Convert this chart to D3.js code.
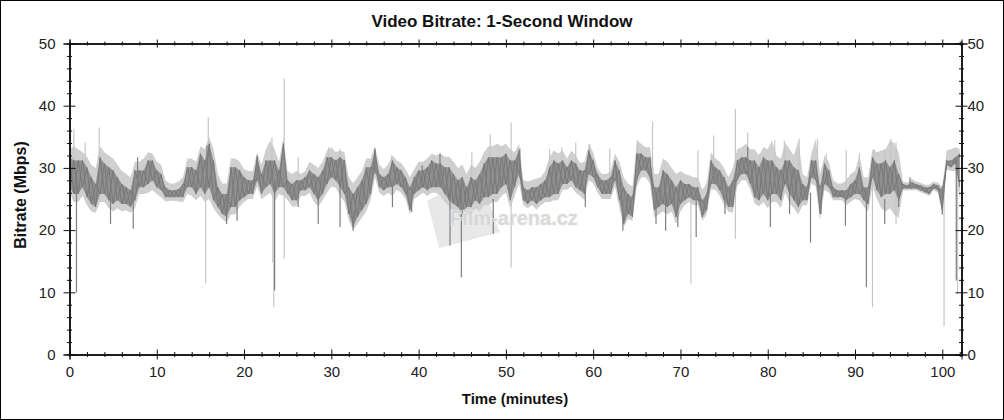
<!DOCTYPE html>
<html><head><meta charset="utf-8">
<script src="https://cdn.jsdelivr.net/npm/d3@7"></script>
<style>
html,body{margin:0;padding:0;background:#fff;}
svg{display:block;font-family:"Liberation Sans",Arial,sans-serif;}
</style></head>
<body><svg id="c" width="1004" height="420"></svg>
<script>
// sample times: every 0.5 minute from 0 to 102
const times = d3.range(0, 102.01, 0.5);
const darkHi = [31.7,31.2,31.2,31.2,30.1,28.5,27.4,31.7,30.7,30.1,29.6,28.5,27.4,26.9,26.4,29.6,29.6,29.6,31.2,31.2,
29.6,29.0,26.9,26.4,26.4,26.6,27.4,30.1,30.1,29.6,32.3,31.2,33.9,31.2,26.9,25.8,25.8,30.1,30.1,29.6,
28.5,28.0,28.0,31.7,29.0,31.2,31.2,31.2,29.6,33.9,28.0,27.4,28.0,28.0,28.5,29.6,29.0,28.5,29.6,31.7,
31.7,31.2,31.7,31.2,26.9,25.8,26.9,28.0,30.1,30.1,32.8,29.0,28.5,29.0,31.2,30.1,29.6,28.5,26.9,28.5,
29.6,29.6,30.1,31.2,30.7,30.7,30.1,30.1,29.0,28.0,28.5,26.9,28.5,28.0,29.0,30.7,31.7,31.7,31.7,31.7,
32.3,31.2,31.2,32.8,26.9,26.4,26.9,26.9,27.4,28.0,30.1,31.2,30.7,31.2,30.1,31.2,30.7,29.6,29.6,32.8,
31.2,29.0,28.0,28.0,28.5,31.2,29.6,26.9,25.8,25.3,32.3,32.3,31.7,31.7,26.9,26.9,29.6,29.0,28.0,26.9,
28.0,27.4,27.4,26.9,26.9,24.8,25.8,31.2,30.1,29.6,28.5,26.9,28.0,31.2,31.7,31.7,31.2,31.2,30.1,31.7,
31.2,31.2,30.1,29.6,31.2,31.2,30.1,29.6,27.4,26.9,31.2,31.2,26.9,30.7,29.6,26.9,26.4,26.4,26.4,27.4,
28.0,30.1,26.9,26.9,31.7,30.7,30.7,31.2,30.1,31.2,29.0,27.4,27.2,27.7,27.4,27.2,26.9,26.9,27.4,27.2,
26.4,31.2,31.2,31.7,32.3];
const darkLo = [26.9,25.8,25.8,26.9,25.3,24.2,23.7,25.8,25.8,24.8,24.2,24.8,24.2,24.2,23.7,24.8,26.9,26.9,27.4,28.0,
26.9,26.4,25.3,25.3,25.3,25.3,25.3,26.9,26.9,25.8,26.9,25.8,26.9,24.8,23.7,22.6,22.1,23.7,23.7,24.8,
25.3,25.8,25.8,28.0,25.8,26.9,27.4,25.8,26.9,26.9,25.8,24.8,24.8,26.4,26.4,26.9,25.8,24.8,25.8,27.4,
28.5,28.0,26.9,25.8,22.6,20.5,22.1,23.2,24.2,25.8,29.6,26.9,26.4,26.9,26.9,27.4,26.9,25.8,23.2,25.8,
26.4,26.9,26.4,26.9,26.9,26.9,25.8,24.8,24.2,23.7,22.6,23.7,23.7,24.8,24.2,25.3,25.3,25.8,25.8,26.9,
27.4,24.8,26.9,29.0,24.8,24.2,24.8,24.2,24.8,25.3,25.3,25.8,25.8,27.4,27.4,28.0,26.9,26.4,25.8,29.0,
28.5,26.9,25.8,25.8,25.8,28.0,24.8,21.0,22.6,22.1,28.0,29.6,29.6,28.5,23.2,23.7,24.2,23.7,24.2,22.1,
24.2,24.8,25.3,24.8,24.8,22.1,23.2,27.4,27.4,26.4,24.8,23.7,23.7,28.0,29.0,29.0,27.5,25.3,24.8,25.8,
24.8,25.8,25.8,24.8,27.4,25.8,24.8,23.7,24.8,24.8,28.5,28.0,22.6,27.4,26.9,25.3,25.3,25.3,24.8,25.3,
25.8,25.8,24.8,24.2,28.5,26.4,25.3,25.8,25.8,26.4,24.8,26.7,26.7,26.7,26.7,26.4,26.1,25.8,26.7,26.4,
23.2,30.4,30.1,30.7,26.9];
const lightHi = [33.0,33.5,33.0,32.5,31.8,30.5,30.0,33.5,32.5,32.0,31.5,30.5,29.5,29.0,28.5,31.0,31.0,31.5,32.5,32.3,
31.0,30.5,28.0,27.5,27.5,27.8,28.5,31.5,31.5,31.0,33.5,33.0,35.0,33.0,29.0,27.5,27.5,31.5,31.5,31.0,
29.8,29.5,29.5,32.5,30.5,33.0,34.4,33.0,31.0,35.0,29.5,29.0,29.5,29.0,29.5,31.0,30.5,30.0,31.0,32.8,
33.3,32.5,32.8,32.5,28.5,27.5,28.5,29.5,31.5,31.5,33.5,30.5,29.8,30.5,32.0,31.2,30.8,29.8,28.5,29.8,
31.0,31.0,31.5,32.3,32.0,32.3,31.8,31.8,31.0,30.0,30.5,29.0,30.5,30.0,31.0,32.5,33.5,33.5,33.9,33.5,
33.9,33.0,32.5,33.9,28.0,27.8,28.0,28.3,28.5,29.5,31.8,32.8,32.3,32.8,31.5,32.8,32.0,30.8,31.0,33.9,
32.5,30.0,29.0,29.0,29.5,32.3,31.0,28.5,27.5,27.0,34.4,33.9,33.3,33.3,29.0,29.0,31.5,31.0,30.0,29.0,
29.5,29.0,28.8,28.5,28.5,26.5,27.5,32.5,31.5,31.0,30.0,28.5,30.0,33.0,33.3,33.9,33.0,33.0,32.0,33.3,
33.0,34.4,32.0,31.5,34.0,33.0,32.0,34.4,29.0,28.5,32.3,34.7,29.0,32.0,31.0,28.0,27.5,27.5,28.0,29.0,
29.5,32.0,28.5,28.5,33.0,32.5,32.8,33.0,34.4,34.0,32.5,27.8,27.6,28.2,27.8,27.6,27.3,27.3,27.8,27.6,
27.0,32.8,33.0,33.3,33.0];
const lightLo = [26.0,24.5,24.5,25.5,24.0,23.0,22.8,24.5,24.5,23.5,23.0,23.5,23.0,23.2,22.8,23.5,25.8,25.8,26.0,26.5,
25.8,25.3,24.6,24.7,24.7,24.6,24.5,25.8,25.5,24.8,25.5,24.5,25.0,23.5,22.5,21.8,21.2,22.5,22.5,23.8,
24.5,25.0,25.0,27.0,25.0,25.5,26.0,24.5,25.8,25.5,24.8,23.8,23.8,25.5,25.5,26.0,24.5,23.8,24.8,26.0,
27.0,26.8,25.5,24.5,21.5,20.0,21.0,22.0,23.0,24.8,28.5,26.0,25.5,26.0,25.5,26.5,26.0,25.0,22.5,25.0,
25.5,26.0,25.5,26.0,26.0,25.5,24.5,23.8,23.0,22.5,21.5,22.5,22.5,23.5,23.0,24.0,24.0,24.5,24.5,25.5,
26.0,23.5,25.5,27.5,24.0,23.5,24.0,23.3,24.0,24.5,24.5,24.8,24.8,26.5,26.5,27.0,26.0,25.5,24.8,28.0,
27.5,26.0,25.0,25.0,25.0,27.0,23.5,20.5,21.8,21.5,27.0,28.5,28.5,27.5,22.0,22.5,23.0,22.5,23.0,21.0,
23.0,24.0,24.5,24.0,24.0,21.5,22.5,26.5,26.5,25.5,24.0,23.0,22.8,27.0,28.0,28.0,26.5,24.3,23.8,24.5,
23.5,24.5,24.5,23.5,26.0,24.3,23.5,22.5,24.0,24.0,27.5,27.0,21.5,26.5,26.0,24.8,24.8,24.8,24.0,24.5,
25.0,24.8,23.8,23.0,27.0,25.0,23.5,23.0,23.5,22.5,22.0,26.4,26.4,26.4,26.4,26.1,25.8,25.5,26.4,26.0,
22.5,29.8,29.5,29.5,25.0];
// isolated light-gray spikes (peak envelope): time, low, high (Mbps)
const lightSpikeT  = [0.5, 1.8, 3.4, 9.3, 15.6, 15.9, 23.2, 23.4, 23.3, 24.6, 26.2, 29.7, 31.0, 36.9, 46.1, 48.2, 50.6, 55.0, 56.4, 58.0, 59.6, 61.9, 65.1, 66.8, 71.2, 72.0, 73.8, 76.3, 77.7, 79.1, 80.8, 81.9, 83.6, 85.7, 86.7, 89.0, 90.5, 92.0, 92.2, 93.4, 94.1, 94.7, 94.7, 100.2, 101.75];
const lightSpikeLo = [26.0, 28.0, 28.0, 28.0, 11.4, 28.0, 28.0, 7.6, 14.8, 15.4, 26.0, 28.0, 28.0, 28.0, 27.0, 28.0, 14.0, 28.0, 28.0, 28.0, 28.0, 27.0, 29.0, 28.0, 11.4, 26.0, 28.0, 18.6, 29.0, 28.0, 28.0, 28.0, 27.0, 28.0, 28.0, 26.0, 28.0, 7.6, 29.0, 28.0, 28.0, 28.0, 21.0, 4.6, 9.8];
const lightSpikeHi = [36.2, 34.1, 36.5, 32.0, 27.0, 38.1, 34.9, 27.0, 27.0, 44.4, 31.7, 33.3, 33.0, 32.0, 32.5, 35.4, 37.3, 33.1, 33.3, 34.1, 33.9, 33.1, 34.4, 37.4, 26.0, 32.8, 35.2, 39.5, 35.7, 32.3, 34.4, 34.4, 34.7, 34.7, 32.3, 32.8, 32.3, 28.0, 33.0, 33.0, 34.7, 34.1, 26.0, 27.0, 30.0];
// isolated dark spikes: time, low, high (Mbps)
const darkSpikeT  = [0.8, 4.7, 7.3, 7.8, 15.75, 18.0, 19.2, 21.5, 23.5, 26.2, 28.5, 31.0, 32.5, 35.0, 37.0, 39.2, 40.4, 42.45, 43.6, 44.9, 48.55, 51.6, 59.1, 63.4, 67.2, 68.3, 69.7, 71.8, 75.1, 77.7, 80.3, 82.5, 84.9, 86.1, 88.9, 91.3, 93.4, 95.0, 96.3, 100.0, 101.6];
const darkSpikeLo = [10.0, 21.0, 20.2, 27.0, 27.0, 21.0, 21.5, 28.0, 10.3, 23.7, 21.0, 20.5, 19.9, 29.0, 23.7, 22.9, 27.0, 27.0, 17.5, 12.4, 19.4, 29.0, 23.7, 19.9, 21.0, 19.9, 20.5, 18.9, 22.6, 29.0, 20.5, 22.6, 18.0, 22.6, 20.7, 10.8, 21.0, 23.7, 26.9, 22.5, 11.9];
const darkSpikeHi = [28.0, 26.0, 26.0, 31.7, 33.6, 25.0, 25.0, 32.0, 28.0, 27.0, 26.0, 28.0, 23.0, 33.1, 27.0, 26.0, 30.4, 32.3, 27.0, 27.0, 25.0, 33.1, 27.0, 25.0, 26.0, 26.0, 24.0, 25.0, 25.0, 33.4, 26.0, 27.0, 26.0, 25.0, 25.0, 26.0, 25.0, 27.0, 28.5, 27.0, 31.0];
const xMajor = [0,10,20,30,40,50,60,70,80,90,100];
const xMinor = d3.range(0, 102.1, 2).filter(v => v % 10 !== 0);
const yMajor = [0,10,20,30,40,50];
const yMinor = d3.range(0, 50.1, 2).filter(v => v % 10 !== 0);
const titleText = "Video Bitrate: 1-Second Window";
const xLabel = "Time (minutes)";
const yLabel = "Bitrate (Mbps)";

const svg = d3.select("#c");
const L = 69.5, R = 961.5, T = 43.5, B = 354.5;
const x = d3.scaleLinear().domain([0, 102.2]).range([L, R]);
const y = d3.scaleLinear().domain([0, 50]).range([B, T]);

svg.append("rect").attr("x",0.5).attr("y",0.5).attr("width",1003).attr("height",419)
  .attr("fill","#fff").attr("stroke","#000");

// watermark logo behind data
svg.append("polygon")
  .attr("points", [[427,201],[478,173],[500,232],[439,248]].map(p=>p.join(",")).join(" "))
  .attr("fill","#d9d9d9").attr("opacity",0.6);

const pts = times.map((t,i)=>({t, dh:darkHi[i], dl:darkLo[i], lh:lightHi[i], ll:lightLo[i]}));

svg.append("path").datum(pts)
  .attr("d", d3.area().x(d=>x(d.t)).y0(d=>y(d.ll)).y1(d=>y(d.lh)))
  .attr("fill","#cfcfcf");

const lsp = lightSpikeT.map((t,i)=>({t, lo:lightSpikeLo[i], hi:lightSpikeHi[i]}));
svg.append("g").selectAll("line").data(lsp).join("line")
  .attr("x1",d=>x(d.t)).attr("x2",d=>x(d.t)).attr("y1",d=>y(d.lo)).attr("y2",d=>y(d.hi))
  .attr("stroke","#c6c6c6").attr("stroke-width",1.2);

svg.append("path").datum(pts)
  .attr("d", d3.area().x(d=>x(d.t)).y0(d=>y(d.dl)).y1(d=>y(d.dh)))
  .attr("fill","#8f8f8f");

// crossing zigzags through the dark band for a noisy texture
const zigA = pts.map((d,i)=> i%2===0 ? [d.t,d.dh] : [d.t,d.dl]);
const zigB = pts.map((d,i)=> i%2===0 ? [d.t,d.dl] : [d.t,d.dh]);
const ln = d3.line().x(d=>x(d[0])).y(d=>y(d[1]));
[zigA, zigB].forEach(z => svg.append("path").datum(z).attr("d", ln)
  .attr("fill","none").attr("stroke","#767676").attr("stroke-width",0.9));

const dsp = darkSpikeT.map((t,i)=>({t, lo:darkSpikeLo[i], hi:darkSpikeHi[i]}));
svg.append("g").selectAll("line").data(dsp).join("line")
  .attr("x1",d=>x(d.t)).attr("x2",d=>x(d.t)).attr("y1",d=>y(d.lo)).attr("y2",d=>y(d.hi))
  .attr("stroke","#7e7e7e").attr("stroke-width",1.2);

// watermark text
svg.append("text").attr("x",450).attr("y",225).text("Film-arena.cz")
  .attr("font-size",20).attr("font-weight","bold").attr("fill","#d4d4d4")
  .attr("stroke","#f2f2f2").attr("stroke-width",1.2).attr("paint-order","stroke").attr("opacity",0.85);

// axes
function styleAxis(g){ g.select(".domain").attr("stroke","#111"); g.selectAll(".tick line").attr("stroke","#111");
  g.selectAll("text").attr("font-family","'Liberation Sans',Arial,sans-serif").attr("font-size",15).attr("fill","#222"); }

function crossAxis(gen1, gen2, pos, vals, size, labels){
  const a = svg.append("g").attr("transform",pos).call(gen1.tickValues(vals).tickSize(size).tickFormat(labels?d3.format("d"):""));
  const b = svg.append("g").attr("transform",pos).call(gen2.tickValues(vals).tickSize(size).tickFormat(""));
  styleAxis(a); styleAxis(b);
  return a;
}
// bottom
const bx = crossAxis(d3.axisBottom(x), d3.axisTop(x), `translate(0,${B})`, xMajor, 5, true);
bx.selectAll("text").attr("dy","0.95em").attr("y",8);
crossAxis(d3.axisBottom(x), d3.axisTop(x), `translate(0,${B})`, xMinor, 2.5, false);
// top
crossAxis(d3.axisTop(x), d3.axisBottom(x), `translate(0,${T})`, xMajor, 4, false);
crossAxis(d3.axisTop(x), d3.axisBottom(x), `translate(0,${T})`, xMinor, 2, false);
// left
const ly = crossAxis(d3.axisLeft(y), d3.axisRight(y), `translate(${L},0)`, yMajor, 6, true);
ly.selectAll("text").attr("x",-14);
crossAxis(d3.axisLeft(y), d3.axisRight(y), `translate(${L},0)`, yMinor, 2.5, false);
// right
const ry = crossAxis(d3.axisRight(y), d3.axisLeft(y), `translate(${R},0)`, yMajor, 6, true);
ry.selectAll("text").attr("x",6);
crossAxis(d3.axisRight(y), d3.axisLeft(y), `translate(${R},0)`, yMinor, 2.5, false);

svg.selectAll(".domain").attr("stroke","#111");

svg.append("text").attr("x",502).attr("y",27).attr("text-anchor","middle")
  .attr("font-size",17).attr("font-weight","bold").attr("fill","#111").text(titleText);
svg.append("text").attr("x",515).attr("y",404).attr("text-anchor","middle")
  .attr("font-size",15).attr("font-weight","bold").attr("fill","#111").text(xLabel);
svg.append("text").attr("transform","translate(26,195) rotate(-90)").attr("text-anchor","middle")
  .attr("font-size",16).attr("font-weight","bold").attr("fill","#111").text(yLabel);
</script></body></html>
